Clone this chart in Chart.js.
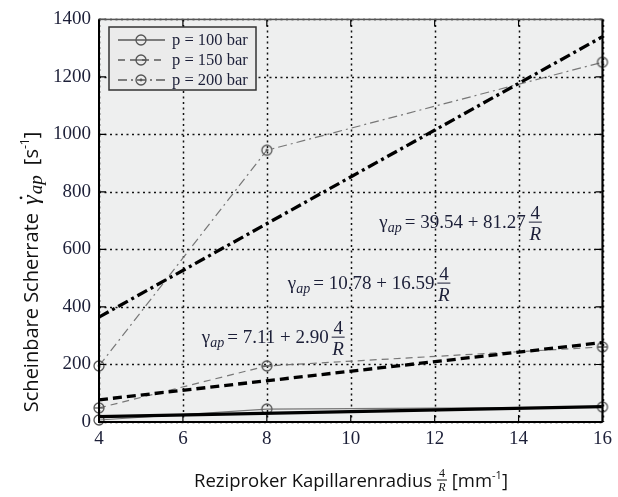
<!DOCTYPE html>
<html>
<head>
<meta charset="utf-8">
<script src="https://cdn.jsdelivr.net/npm/chart.js@4.4.1/dist/chart.umd.min.js"></script>
<style>
  html, body { margin: 0; padding: 0; background: #fff; }
  #wrap { width: 618px; height: 497px; }
</style>
</head>
<body>
<div id="wrap"><canvas id="chart" width="618" height="497"></canvas></div>
<script>
// measured points (x = 4/R in 1/mm)
const xValues = [4, 8, 16];
const p100 = [7, 45, 52];
const p150 = [49, 195, 261];
const p200 = [195, 945, 1251];

// regression lines, end points
const fitX = [4, 16];
const fit100 = [18.7, 53.5];
const fit150 = [77.1, 276.2];
const fit200 = [364.6, 1339.9];

const seriesLabels = ['p = 100 bar', 'p = 150 bar', 'p = 200 bar'];

// fit equations: intercept and slope as printed
const eqIntercepts = ['39.54', '10.78', '7.11'];
const eqSlopes = ['81.27', '16.59', '2.90'];

const SERIF = 'Liberation Serif';
const SANS = 'Open Sans';
const TXT = '#1c1f38';

function marker(kind) {
  const c = document.createElement('canvas');
  c.width = 14; c.height = 14;
  const g = c.getContext('2d');
  g.strokeStyle = '#555';
  g.lineWidth = 1.3;
  g.beginPath(); g.arc(7, 7, 5, 0, Math.PI * 2); g.stroke();
  if (kind === 'bar') {
    g.beginPath(); g.moveTo(2, 7); g.lineTo(12, 7); g.stroke();
  } else if (kind === 'dot') {
    g.fillStyle = '#555';
    g.beginPath(); g.arc(7, 7, 1.4, 0, Math.PI * 2); g.fill();
  }
  return c;
}

const markers = [marker('plain'), marker('bar'), marker('dot')];
const thinDash = [[], [7, 5], [9, 4, 2, 4]];
const thickDash = [[], [9, 5], [11, 4, 3, 4]];

function pts(xs, ys) { return xs.map((x, i) => ({ x: x, y: ys[i] })); }

const dataSets = [p100, p150, p200];
const fitSets = [fit100, fit150, fit200];

const datasets = [];
fitSets.forEach((f, i) => {
  datasets.push({
    label: 'fit ' + seriesLabels[i],
    data: pts(fitX, f),
    borderColor: '#000',
    borderWidth: 3.3,
    borderDash: thickDash[i],
    pointRadius: 0,
    fill: false,
    clip: false
  });
});
dataSets.forEach((d, i) => {
  datasets.push({
    label: seriesLabels[i],
    data: pts(xValues, d),
    borderColor: '#777',
    borderWidth: 1.2,
    borderDash: thinDash[i],
    pointStyle: markers[i],
    pointRadius: 5,
    fill: false,
    clip: false
  });
});

// draw a run of text pieces, left to right, on one baseline
function drawRich(ctx, x, y, parts) {
  let cx = x;
  parts.forEach(p => {
    ctx.font = p.font;
    ctx.fillText(p.t, cx, y + (p.dy || 0));
    cx += ctx.measureText(p.t).width + (p.after || 0);
  });
  return cx;
}
function richWidth(ctx, parts) {
  let w = 0;
  parts.forEach(p => { ctx.font = p.font; w += ctx.measureText(p.t).width + (p.after || 0); });
  return w;
}

function drawFraction(ctx, x, mid, size, w) {
  ctx.font = size + 'px ' + SERIF;
  ctx.textAlign = 'center';
  ctx.fillText('4', x + w / 2, mid - 3);
  ctx.font = 'italic ' + size + 'px ' + SERIF;
  ctx.fillText('R', x + w / 2, mid + size - 1);
  ctx.textAlign = 'left';
  ctx.beginPath();
  ctx.moveTo(x, mid); ctx.lineTo(x + w, mid);
  ctx.lineWidth = 1; ctx.stroke();
}

const eqAnchors = [{ x: 10.68, y: 695 }, { x: 8.5, y: 483 }, { x: 6.45, y: 295 }];

const decor = {
  id: 'decor',
  beforeDatasetsDraw(chart) {
    const { ctx, chartArea: a, scales } = chart;
    ctx.save();
    ctx.fillStyle = '#eeefef';
    ctx.fillRect(a.left, a.top, a.right - a.left, a.bottom - a.top);
    // dotted grid
    ctx.strokeStyle = '#111';
    ctx.lineWidth = 1.5;
    ctx.setLineDash([2, 3.5]);
    scales.x.ticks.forEach(t => {
      const px = Math.round(scales.x.getPixelForValue(t.value)) + 0.5;
      ctx.beginPath(); ctx.moveTo(px, a.top); ctx.lineTo(px, a.bottom); ctx.stroke();
    });
    scales.y.ticks.forEach(t => {
      const py = Math.round(scales.y.getPixelForValue(t.value)) + 0.5;
      ctx.beginPath(); ctx.moveTo(a.left, py); ctx.lineTo(a.right, py); ctx.stroke();
    });
    ctx.restore();
  },
  afterDraw(chart) {
    const { ctx, chartArea: a, scales } = chart;
    const xs = scales.x, ys = scales.y;
    ctx.save();

    // inner tick marks
    ctx.strokeStyle = '#000';
    ctx.lineWidth = 1.2;
    ctx.setLineDash([]);
    xs.ticks.forEach(t => {
      const px = xs.getPixelForValue(t.value);
      ctx.beginPath();
      ctx.moveTo(px, a.bottom); ctx.lineTo(px, a.bottom - 7);
      ctx.moveTo(px, a.top); ctx.lineTo(px, a.top + 7);
      ctx.stroke();
    });
    ys.ticks.forEach(t => {
      const py = ys.getPixelForValue(t.value);
      ctx.beginPath();
      ctx.moveTo(a.left, py); ctx.lineTo(a.left + 7, py);
      ctx.moveTo(a.right, py); ctx.lineTo(a.right - 7, py);
      ctx.stroke();
    });

    // frame
    ctx.strokeStyle = '#555';
    ctx.lineWidth = 1.5;
    ctx.strokeRect(a.left, a.top, a.right - a.left, a.bottom - a.top);
    ctx.strokeStyle = '#000';
    ctx.lineWidth = 2;
    ctx.beginPath();
    ctx.moveTo(a.left, a.top); ctx.lineTo(a.left, a.bottom); ctx.lineTo(a.right, a.bottom);
    ctx.moveTo(a.right, a.top); ctx.lineTo(a.right, a.bottom);
    ctx.stroke();

    // equations
    ctx.fillStyle = TXT;
    ctx.strokeStyle = TXT;
    ctx.textBaseline = 'alphabetic';
    eqAnchors.forEach((p, i) => {
      const x = xs.getPixelForValue(p.x);
      const mid = ys.getPixelForValue(p.y);
      const base = mid + 6;
      const end = drawRich(ctx, x, base, [
        { t: 'γ', font: '19px ' + SERIF },
        { t: 'ap', font: 'italic 14px ' + SERIF, dy: 4, after: 3 },
        { t: '= ' + eqIntercepts[i] + ' + ' + eqSlopes[i], font: '19px ' + SERIF, after: 3 }
      ]);
      drawFraction(ctx, end, mid, 19, 13);
    });

    // legend
    const lx = 109, ly = 27, lw = 147, lh = 63;
    ctx.fillStyle = '#ebebeb';
    ctx.fillRect(lx, ly, lw, lh);
    ctx.strokeStyle = '#333';
    ctx.lineWidth = 1.5;
    ctx.strokeRect(lx, ly, lw, lh);
    seriesLabels.forEach((lab, i) => {
      const y = 40 + i * 20;
      ctx.strokeStyle = '#111';
      ctx.lineWidth = 1.2;
      ctx.setLineDash(thinDash[i]);
      ctx.beginPath(); ctx.moveTo(118, y); ctx.lineTo(165, y); ctx.stroke();
      ctx.setLineDash([]);
      ctx.drawImage(markers[i], 134, y - 7);
      ctx.fillStyle = TXT;
      ctx.font = '16.5px ' + SERIF;
      ctx.fillText(lab, 172, y + 5);
    });

    // y axis title
    ctx.fillStyle = '#111';
    ctx.strokeStyle = '#111';
    const yParts = [
      { t: 'Scheinbare Scherrate ', font: '20px ' + SANS, after: 3 },
      { t: 'γ', font: 'italic 24px ' + SERIF, after: 1 },
      { t: 'ap', font: 'italic 19px ' + SERIF, dy: 4, after: 5 },
      { t: ' [s', font: '20px ' + SANS },
      { t: '-1', font: '12px ' + SANS, dy: -9 },
      { t: ']', font: '20px ' + SANS }
    ];
    ctx.translate(31, 272);
    ctx.rotate(-Math.PI / 2);
    const yw = richWidth(ctx, yParts);
    drawRich(ctx, -yw / 2, 7, yParts);
    // dot over gamma
    ctx.font = '20px ' + SANS;
    const gx = -yw / 2 + ctx.measureText('Scheinbare Scherrate ').width + 3;
    ctx.beginPath(); ctx.arc(gx + 7, -10, 1.4, 0, Math.PI * 2); ctx.fill();
    ctx.setTransform(1, 0, 0, 1, 0, 0);

    // x axis title
    const pre = [{ t: 'Reziproker Kapillarenradius ', font: '18.5px ' + SANS }];
    const post = [
      { t: ' [mm', font: '18.5px ' + SANS },
      { t: '-1', font: '11px ' + SANS, dy: -8 },
      { t: ']', font: '18.5px ' + SANS }
    ];
    const fw = 10;
    const total = richWidth(ctx, pre) + fw + richWidth(ctx, post);
    const tx = 351 - total / 2, tb = 487;
    const fx = drawRich(ctx, tx, tb, pre);
    drawFraction(ctx, fx, tb - 7, 12, fw);
    drawRich(ctx, fx + fw, tb, post);

    ctx.restore();
  }
};

new Chart(document.getElementById('chart'), {
  type: 'line',
  data: { datasets: datasets },
  options: {
    responsive: false,
    devicePixelRatio: 1,
    animation: false,
    layout: { padding: { left: 0, right: 9, top: 19, bottom: 0 } },
    plugins: { legend: { display: false }, tooltip: { enabled: false } },
    scales: {
      x: {
        type: 'linear',
        min: 4, max: 16,
        ticks: { stepSize: 2, padding: 6, color: TXT, font: { family: SERIF, size: 19 },
                 callback: v => String(v) },
        grid: { display: false, drawTicks: false },
        border: { display: false },
        afterFit(s) { s.height = 75; }
      },
      y: {
        min: 0, max: 1400,
        ticks: { stepSize: 200, padding: 8, color: TXT, font: { family: SERIF, size: 19 },
                 callback: v => String(v) },
        grid: { display: false, drawTicks: false },
        border: { display: false },
        afterFit(s) { s.width = 99; }
      }
    }
  },
  plugins: [decor]
});
</script>
</body>
</html>
